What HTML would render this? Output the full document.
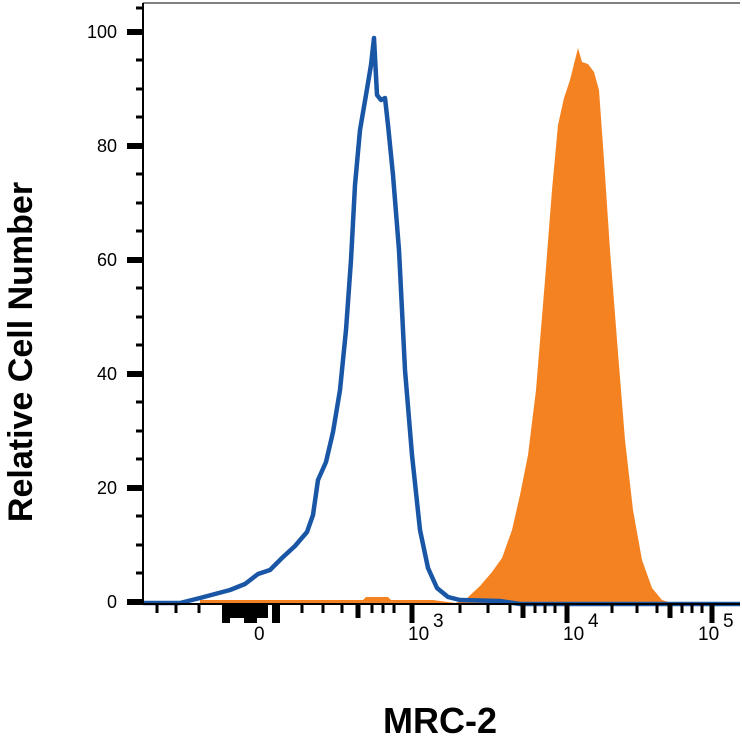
<!DOCTYPE html>
<html><head><style>body{margin:0;background:#fff}</style></head><body>
<svg width="742" height="746" xmlns="http://www.w3.org/2000/svg" font-family="Liberation Sans, sans-serif">
<rect width="742" height="746" fill="#fff"/>
<!-- orange -->
<path d="M200,605 L200,600 L363,600 L366,597 L388,597 L391,600 L433,600 L455,603 L465,600 L480,586 L492,572 L502,558 L512,530 L520,495 L528,455 L536,390 L545,280 L552,190 L558,125 L564,98 L570,80 L575,60 L578,48 L582,62 L588,64 L594,72 L599,90 L604,160 L610,250 L617,340 L625,440 L633,510 L642,560 L652,588 L662,600 L675,604 L675,605 Z" fill="#f58220"/>
<!-- blue -->
<path d="M143,603 L180,603 L200,598 L215,594 L230,590 L245,584 L258,574 L270,570 L282,558 L295,546 L307,532 L313,515 L318,480 L326,462 L333,432 L340,390 L346,330 L351,260 L355,185 L360,130 L366,95 L371,65 L374,38 L377,95 L381,100 L385,98 L388,125 L393,175 L399,250 L405,370 L412,455 L420,530 L428,568 L437,588 L448,597 L460,600 L500,601 L520,604 L740,604" fill="none" stroke="#1a56a6" stroke-width="4.5" stroke-linejoin="round"/>
<!-- axes -->
<path d="M143,3 L143,604 L740,604" fill="none" stroke="#000" stroke-width="2"/>
<line x1="143" y1="3" x2="740" y2="3" stroke="#000" stroke-width="1"/>
<g stroke="#000">
<line x1="127" y1="32" x2="143" y2="32" stroke-width="6"/>
<line x1="127" y1="146" x2="143" y2="146" stroke-width="6"/>
<line x1="127" y1="260" x2="143" y2="260" stroke-width="6"/>
<line x1="127" y1="374" x2="143" y2="374" stroke-width="6"/>
<line x1="127" y1="488" x2="143" y2="488" stroke-width="6"/>
<line x1="127" y1="602" x2="143" y2="602" stroke-width="6"/>
<g stroke-width="3">
<line x1="136" y1="60" x2="143" y2="60"/><line x1="136" y1="89" x2="143" y2="89"/><line x1="136" y1="117" x2="143" y2="117"/>
<line x1="136" y1="174" x2="143" y2="174"/><line x1="136" y1="203" x2="143" y2="203"/><line x1="136" y1="231" x2="143" y2="231"/>
<line x1="136" y1="288" x2="143" y2="288"/><line x1="136" y1="317" x2="143" y2="317"/><line x1="136" y1="345" x2="143" y2="345"/>
<line x1="136" y1="402" x2="143" y2="402"/><line x1="136" y1="431" x2="143" y2="431"/><line x1="136" y1="459" x2="143" y2="459"/>
<line x1="136" y1="516" x2="143" y2="516"/><line x1="136" y1="545" x2="143" y2="545"/><line x1="136" y1="573" x2="143" y2="573"/>
<line x1="136" y1="8" x2="143" y2="8"/>
</g>
<g stroke-width="3">
<line x1="157" y1="605" x2="157" y2="613"/><line x1="176" y1="605" x2="176" y2="613"/><line x1="199" y1="605" x2="199" y2="613"/>
<line x1="302" y1="605" x2="302" y2="613"/><line x1="323" y1="605" x2="323" y2="613"/><line x1="342" y1="605" x2="342" y2="613"/>
<line x1="372" y1="605" x2="372" y2="613"/><line x1="383" y1="605" x2="383" y2="613"/><line x1="394" y1="605" x2="394" y2="613"/>
<line x1="460" y1="605" x2="460" y2="613"/><line x1="488" y1="605" x2="488" y2="613"/><line x1="510" y1="605" x2="510" y2="613"/>
<line x1="535" y1="605" x2="535" y2="613"/><line x1="545" y1="605" x2="545" y2="613"/><line x1="555" y1="605" x2="555" y2="613"/>
<line x1="612" y1="605" x2="612" y2="613"/><line x1="637" y1="605" x2="637" y2="613"/><line x1="657" y1="605" x2="657" y2="613"/>
<line x1="682" y1="605" x2="682" y2="613"/><line x1="692" y1="605" x2="692" y2="613"/><line x1="702" y1="605" x2="702" y2="613"/>
</g>
<g stroke-width="5">
<line x1="358" y1="605" x2="358" y2="618"/><line x1="523" y1="605" x2="523" y2="618"/><line x1="670" y1="605" x2="670" y2="618"/>
<line x1="412" y1="605" x2="412" y2="623"/><line x1="567" y1="605" x2="567" y2="623"/><line x1="712" y1="605" x2="712" y2="623"/>
</g>
<rect x="222" y="605" width="8" height="18" fill="#000" stroke="none"/>
<rect x="230" y="605" width="14" height="13" fill="#000" stroke="none"/>
<rect x="244" y="605" width="13" height="18" fill="#000" stroke="none"/>
<rect x="257" y="605" width="11" height="13" fill="#000" stroke="none"/>
<rect x="272" y="605" width="8" height="18" fill="#000" stroke="none"/>
</g>
<g font-size="18" fill="#000" text-anchor="end">
<text x="117" y="38">100</text><text x="117" y="152">80</text><text x="117" y="266">60</text>
<text x="117" y="380">40</text><text x="117" y="494">20</text><text x="117" y="608">0</text>
</g>
<g font-size="19" fill="#000">
<text x="254" y="640">0</text>
<text x="408" y="640">10</text><text x="433" y="627">3</text>
<text x="563" y="640">10</text><text x="588" y="627">4</text>
<text x="698" y="640">10</text><text x="723" y="627">5</text>
</g>
<text x="440" y="733" font-size="36" font-weight="bold" text-anchor="middle">MRC-2</text>
<text transform="translate(32,352) rotate(-90)" font-size="34" font-weight="bold" text-anchor="middle">Relative Cell Number</text>
</svg>
</body></html>
